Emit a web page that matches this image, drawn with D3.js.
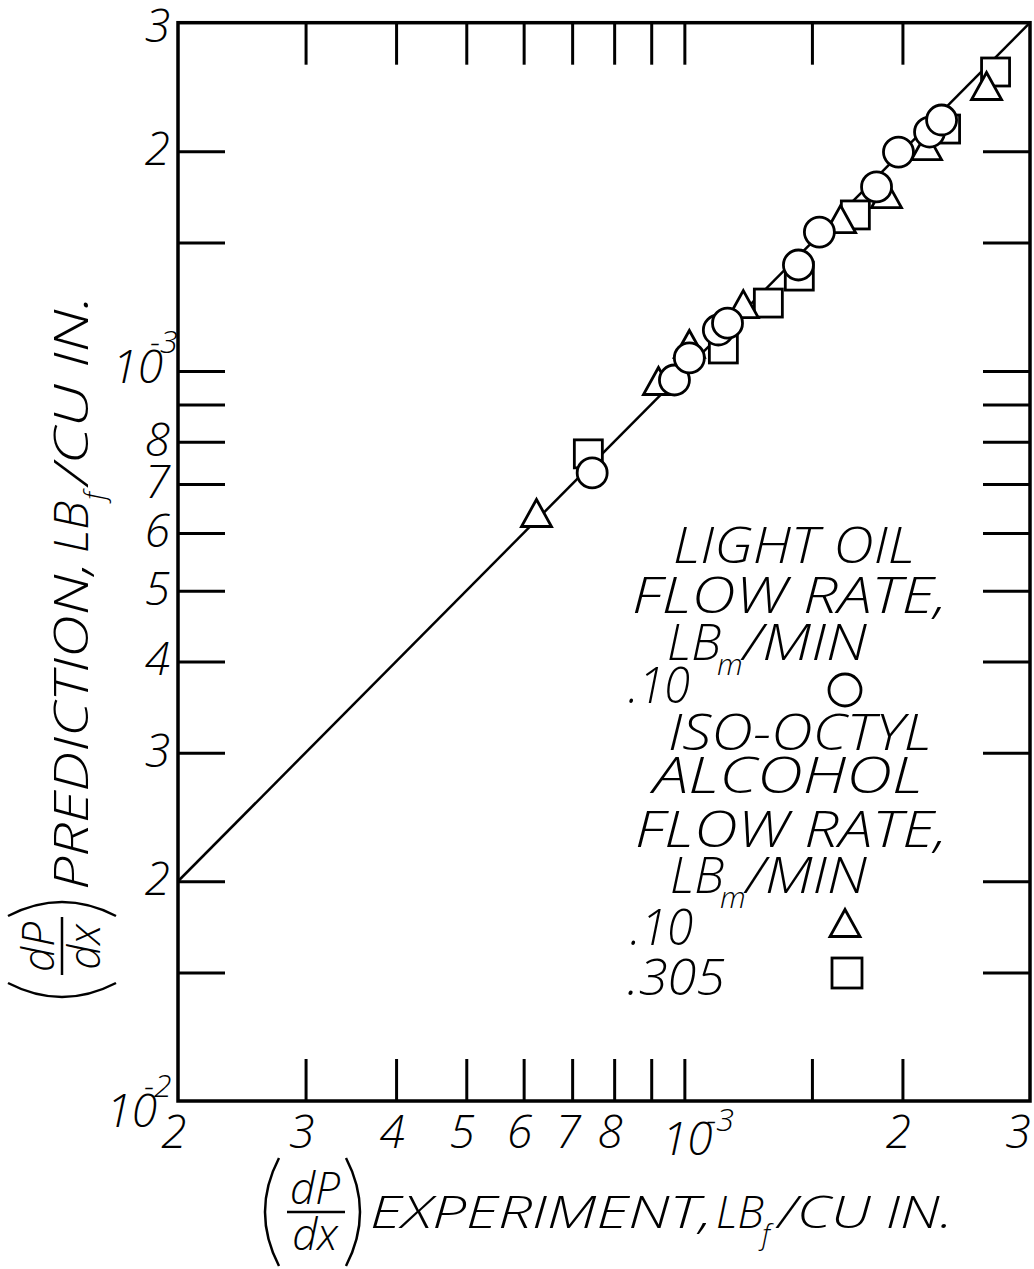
<!doctype html>
<html>
<head>
<meta charset="utf-8">
<title>dP/dx prediction vs experiment</title>
<script src="https://d3js.org/d3.v7.min.js"></script>
<style>
  body { margin: 0; background: #fff; }
  svg text { font-family: 'Open Sans', 'Liberation Sans', sans-serif; font-style: italic; font-weight: 300; fill: #000; }
  .tick line { stroke: #000; stroke-width: 3; }
</style>
</head>
<body>
<div id="chart"></div>
<script>
// pressure gradient, LBf / cu in.
var lightOilX = [7.46e-4, 9.69e-4, 1.016e-3, 1.114e-3, 1.147e-3, 1.437e-3, 1.536e-3, 1.842e-3, 1.975e-3, 2.180e-3, 2.265e-3];
var lightOilY = [7.25e-4, 9.72e-4, 1.042e-3, 1.138e-3, 1.163e-3, 1.397e-3, 1.550e-3, 1.787e-3, 1.995e-3, 2.125e-3, 2.207e-3];
var isoLowX  = [6.25e-4, 9.21e-4, 1.016e-3, 1.206e-3, 1.643e-3, 1.901e-3, 2.159e-3, 2.613e-3];
var isoLowY  = [6.39e-4, 9.69e-4, 1.089e-3, 1.235e-3, 1.615e-3, 1.747e-3, 2.033e-3, 2.457e-3];
var isoHighX = [7.37e-4, 1.132e-3, 1.306e-3, 1.441e-3, 1.722e-3, 2.294e-3, 2.689e-3];
var isoHighY = [7.70e-4, 1.072e-3, 1.239e-3, 1.349e-3, 1.636e-3, 2.145e-3, 2.568e-3];

// 45 degree line
var lineX = [2e-4, 3e-3];
var lineY = [2e-4, 3e-3];

var xTicks = [3e-4, 4e-4, 5e-4, 6e-4, 7e-4, 8e-4, 9e-4, 1e-3, 1.5e-3, 2e-3];
var yTicks = [1.5e-4, 2e-4, 3e-4, 4e-4, 5e-4, 6e-4, 7e-4, 8e-4, 9e-4, 1e-3, 1.5e-3, 2e-3];

var xLabelVals = [2e-4, 3e-4, 4e-4, 5e-4, 6e-4, 7e-4, 8e-4, 1e-3, 2e-3, 3e-3];
var xLabelText = ["2", "3", "4", "5", "6", "7", "8", "10", "2", "3"];
var xLabelExp  = ["", "", "", "", "", "", "", "-3", "", ""];
var yLabelVals = [3e-3, 2e-3, 1e-3, 8e-4, 7e-4, 6e-4, 5e-4, 4e-4, 3e-4, 2e-4, 1e-4];
var yLabelText = ["3", "2", "10", "8", "7", "6", "5", "4", "3", "2", "10"];
var yLabelExp  = ["", "", "-3", "", "", "", "", "", "", "", "-2"];

var width = 1034, height = 1269;
var plotL = 178, plotR = 1030, plotT = 22.7, plotB = 1101;

var svg = d3.select("#chart").append("svg")
    .attr("width", width)
    .attr("height", height);

var x = d3.scaleLog().domain([2e-4, 3e-3]).range([plotL, plotR]);
var y = d3.scaleLog().domain([1e-4, 3e-3]).range([plotB, plotT]);

// tick marks on all four sides, pointing inward
function noDomain(g) { g.select(".domain").remove(); }
svg.append("g").attr("transform", "translate(0," + plotB + ")")
  .call(d3.axisBottom(x).tickValues(xTicks).tickSize(-42).tickSizeOuter(0).tickFormat("")).call(noDomain);
svg.append("g").attr("transform", "translate(0," + plotT + ")")
  .call(d3.axisTop(x).tickValues(xTicks).tickSize(-42).tickSizeOuter(0).tickFormat("")).call(noDomain);
svg.append("g").attr("transform", "translate(" + plotL + ",0)")
  .call(d3.axisLeft(y).tickValues(yTicks).tickSize(-47).tickSizeOuter(0).tickFormat("")).call(noDomain);
svg.append("g").attr("transform", "translate(" + plotR + ",0)")
  .call(d3.axisRight(y).tickValues(yTicks).tickSize(-47).tickSizeOuter(0).tickFormat("")).call(noDomain);

// frame
svg.append("rect")
  .attr("x", plotL).attr("y", plotT)
  .attr("width", plotR - plotL).attr("height", plotB - plotT)
  .attr("fill", "none").attr("stroke", "#000").attr("stroke-width", 3.5);

// tick labels
xLabelVals.forEach(function(v, i) {
  var cx = x(v);
  if (xLabelExp[i]) {
    svg.append("text").attr("x", cx + 3).attr("y", 1155).attr("text-anchor", "middle")
      .style("font-size", "46px").text(xLabelText[i]);
    svg.append("text").attr("x", cx + 22).attr("y", 1131).style("font-size", "32px").text(xLabelExp[i]);
  } else {
    svg.append("text").attr("x", Math.min(cx - 4, 1018)).attr("y", 1148).attr("text-anchor", "middle")
      .style("font-size", "46px").text(xLabelText[i]);
  }
});
yLabelVals.forEach(function(v, i) {
  var cy = y(v);
  if (yLabelExp[i]) {
    var low = (v === y.domain()[0]);
    var base = low ? cy + 26 : cy + 12;
    var rx = low ? 157 : 163;
    svg.append("text").attr("x", rx).attr("y", base).attr("text-anchor", "end")
      .style("font-size", "46px").text(yLabelText[i]);
    svg.append("text").attr("x", rx - 13).attr("y", base - 30).style("font-size", "32px").text(yLabelExp[i]);
  } else {
    svg.append("text").attr("x", 170).attr("y", Math.max(cy + 14, 42)).attr("text-anchor", "end")
      .style("font-size", "46px").text(yLabelText[i]);
  }
});

// reference line
svg.append("path")
  .datum(lineX.map(function(d, i) { return [d, lineY[i]]; }))
  .attr("fill", "none").attr("stroke", "#000").attr("stroke-width", 2.5)
  .attr("d", d3.line().x(function(d) { return x(d[0]); }).y(function(d) { return y(d[1]); }));

// markers
function triPath(cx, cy, b, h) {
  return "M" + cx + "," + (cy - h / 2) + "L" + (cx + b / 2) + "," + (cy + h / 2) +
         "L" + (cx - b / 2) + "," + (cy + h / 2) + "Z";
}
function mark(sel) {
  return sel.attr("fill", "#fff").attr("stroke", "#000").attr("stroke-width", 2.8);
}

svg.append("g").selectAll("rect")
  .data(isoHighX.map(function(d, i) { return [d, isoHighY[i]]; }))
  .enter().append("rect")
    .attr("x", function(d) { return x(d[0]) - 14; })
    .attr("y", function(d) { return y(d[1]) - 14; })
    .attr("width", 28).attr("height", 28)
    .call(mark);

svg.append("g").selectAll("path")
  .data(isoLowX.map(function(d, i) { return [d, isoLowY[i]]; }))
  .enter().append("path")
    .attr("d", function(d) { return triPath(x(d[0]), y(d[1]), 30, 27); })
    .call(mark);

svg.append("g").selectAll("circle")
  .data(lightOilX.map(function(d, i) { return [d, lightOilY[i]]; }))
  .enter().append("circle")
    .attr("cx", function(d) { return x(d[0]); })
    .attr("cy", function(d) { return y(d[1]); })
    .attr("r", 15)
    .call(mark);

// text helper: stretches a word between x0 and x1
function word(g, str, x0, x1, base, size) {
  var t = g.append("text").attr("x", x0).attr("y", base).style("font-size", size + "px").text(str);
  if (x1) t.attr("textLength", x1 - x0).attr("lengthAdjust", "spacingAndGlyphs");
  return t;
}

// legend
var lg = svg.append("g");
word(lg, "LIGHT OIL", 673, 915, 563, 50);
word(lg, "FLOW  RATE,", 632, 947, 613, 50);
word(lg, "LB", 667, null, 660, 50);
word(lg, "m", 717, null, 675, 30);
word(lg, "/MIN", 743, 867, 660, 50);
word(lg, ".10", 628, 690, 703, 50);
lg.append("circle").attr("cx", 845).attr("cy", 690).attr("r", 16).call(mark);
word(lg, "ISO-OCTYL", 668, 932, 750, 50);
word(lg, "ALCOHOL", 653, 923, 793, 50);
word(lg, "FLOW RATE,", 635, 947, 847, 50);
word(lg, "LB", 670, null, 893, 50);
word(lg, "m", 720, null, 908, 30);
word(lg, "/MIN", 746, 867, 893, 50);
word(lg, ".10", 630, 693, 945, 50);
lg.append("path").attr("d", triPath(845, 923, 30, 27)).call(mark);
word(lg, ".305", 627, 725, 995, 50);
lg.append("rect").attr("x", 832).attr("y", 958).attr("width", 30).attr("height", 30).call(mark);

// (dP/dx) group, drawn in a local frame (u along text, v down)
function frac(g, uL, vC) {
  var uR = uL + 95;
  g.append("path").attr("d", "M" + (uL + 14) + "," + (vC - 54) + "Q" + (uL - 14) + "," + vC + " " + (uL + 14) + "," + (vC + 54))
    .attr("fill", "none").attr("stroke", "#000").attr("stroke-width", 2.5);
  g.append("path").attr("d", "M" + (uR - 14) + "," + (vC - 54) + "Q" + (uR + 14) + "," + vC + " " + (uR - 14) + "," + (vC + 54))
    .attr("fill", "none").attr("stroke", "#000").attr("stroke-width", 2.5);
  g.append("line").attr("x1", uL + 22).attr("x2", uL + 80).attr("y1", vC).attr("y2", vC)
    .attr("stroke", "#000").attr("stroke-width", 2.5);
  g.append("text").attr("x", uL + 50).attr("y", vC - 8).attr("text-anchor", "middle")
    .style("font-size", "44px").text("dP");
  g.append("text").attr("x", uL + 50).attr("y", vC + 38).attr("text-anchor", "middle")
    .style("font-size", "44px").text("dx");
}

// x title
var xt = svg.append("g");
frac(xt, 265, 1212);
word(xt, "EXPERIMENT,", 370, 712, 1228, 44);
word(xt, "LB", 716, null, 1228, 44);
word(xt, "f", 762, null, 1244, 28);
word(xt, "/CU IN.", 778, 953, 1228, 44);

// y title (rotated)
var yt = svg.append("g").attr("transform", "rotate(-90)");
frac(yt, -997, 62);
word(yt, "PREDICTION,", -890, -562, 88, 48);
word(yt, "LB", -553, null, 88, 48);
word(yt, "f", -500, null, 104, 28);
word(yt, "/CU IN.", -485, -295, 88, 48);
</script>
</body>
</html>
